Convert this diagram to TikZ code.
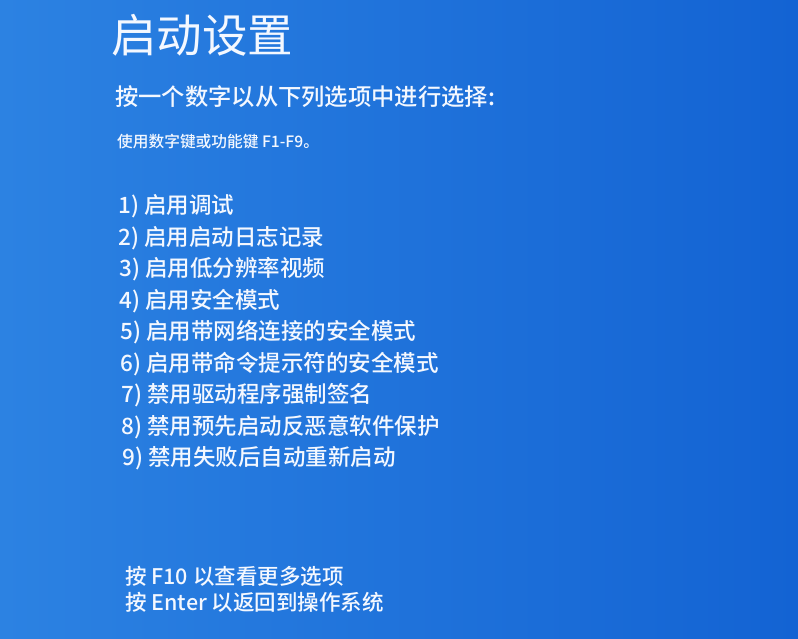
\documentclass[tikz,border=0pt]{standalone}
\usepackage{fontspec}
\setmainfont{Noto Sans CJK SC}[BoldFont={* Medium}]
\definecolor{screenleft}{HTML}{2C82E2}
\definecolor{screenright}{HTML}{1363D3}
\definecolor{screentext}{HTML}{F4F8FF}

\begin{document}
\begin{tikzpicture}[x=1pt,y=-1pt,
		titletext/.style={anchor=west,inner sep=0pt,text=screentext,font=\fontsize{45.5}{45.5}\selectfont},
		headtext/.style={anchor=west,inner sep=0pt,text=screentext,font=\fontsize{23.3}{23.3}\selectfont\bfseries},
		hinttext/.style={anchor=west,inner sep=0pt,text=screentext,font=\fontsize{15.7}{15.7}\selectfont\bfseries},
		itemtext/.style={anchor=west,inner sep=0pt,text=screentext,font=\fontsize{22.5}{22.5}\selectfont\bfseries},
		keytext/.style={anchor=west,inner sep=0pt,text=screentext,font=\fontsize{21.5}{21.5}\selectfont\bfseries}]
		\shade[left color=screenleft,right color=screenright] (0,0) rectangle (798,639);
		\useasboundingbox (0,0) rectangle (798,639);
		%
		\node[titletext] (title) at (111,35) {启动设置};
		\node[headtext] (head) at (115,97) {按一个数字以从下列选项中进行选择:};
		\node[hinttext] (hint) at (117,142) {使用数字键或功能键 F1-F9。};
		%
		\node[itemtext] (debug) at (118,206) {1) 启用调试};
		\node[itemtext] (bootlog) at (118,238) {2) 启用启动日志记录};
		\node[itemtext] (lowres) at (119,269) {3) 启用低分辨率视频};
		\node[itemtext] (safe) at (119,301) {4) 启用安全模式};
		\node[itemtext] (safenet) at (120,332) {5) 启用带网络连接的安全模式};
		\node[itemtext] (safecmd) at (120,364) {6) 启用带命令提示符的安全模式};
		\node[itemtext] (nosign) at (121,395) {7) 禁用驱动程序强制签名};
		\node[itemtext] (noelam) at (121,427) {8) 禁用预先启动反恶意软件保护};
		\node[itemtext] (norestart) at (122,458) {9) 禁用失败后自动重新启动};
		%
		\node[keytext] (more) at (125,576) {按 F10 以查看更多选项};
		\node[keytext] (back) at (125,602) {按 Enter 以返回到操作系统};
	\end{tikzpicture}
\end{document}
